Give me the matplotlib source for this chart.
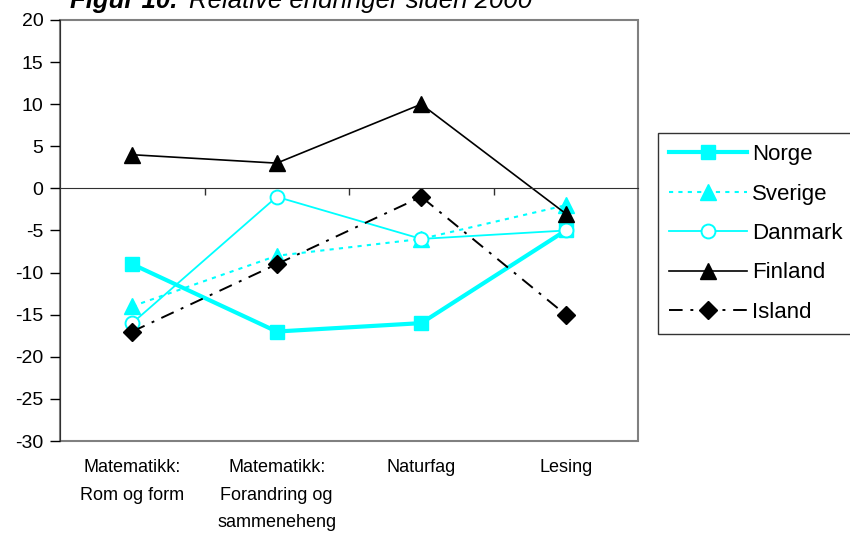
import matplotlib
matplotlib.use("Agg")
import matplotlib.pyplot as plt
from matplotlib.patches import Rectangle
from matplotlib import transforms

plt.rcParams['font.family'] = ['Liberation Sans', 'DejaVu Sans']
plt.rcParams['axes.unicode_minus'] = False

categories = ["Matematikk:\nRom og form", "Matematikk:\nForandring og\nsammeneheng", "Naturfag", "Lesing"]
norge = [-9, -17, -16, -5]
sverige = [-14, -8, -6, -2]
danmark = [-16, -1, -6, -5]
finland = [4, 3, 10, -3]
island = [-17, -9, -1, -15]

CYAN = "#00FFFF"

fig = plt.figure(figsize=(8.5, 5.42), dpi=100)
ax = fig.add_axes([60/850, 101/542, 578/850, 421/542])

x = list(range(len(categories)))
ax.plot(x, norge, color=CYAN, lw=3, marker='s', ms=10, label="Norge")
ax.plot(x, sverige, color=CYAN, lw=1.5, ls=(0, (2, 2.5)), marker='^', ms=11, label="Sverige")
ax.plot(x, danmark, color=CYAN, lw=1.3, marker='o', ms=10, mfc='white', mec=CYAN, mew=1.4, label="Danmark")
ax.plot(x, finland, color='black', lw=1.2, marker='^', ms=11, label="Finland")
ax.plot(x, island, color='black', lw=1.4, ls=(0, (7, 4, 1.5, 4)), marker='D', ms=9, label="Island")

ax.set_xlim(-0.5, 3.5)
ax.set_ylim(-30, 20)
ax.set_yticks(range(-30, 21, 5))
ax.tick_params(axis='y', labelsize=14, length=7, width=1, direction='out', pad=5)

# x axis crossing at zero, ticks at category boundaries
for s in ['top', 'right']:
    ax.spines[s].set_visible(False)
ax.spines['bottom'].set_position(('data', 0))
ax.spines['bottom'].set_color('#303030')
ax.spines['left'].set_color('#303030')
ax.set_xticks([0.5, 1.5, 2.5])
ax.set_xticklabels([])
ax.tick_params(axis='x', length=5, width=1, direction='out', colors='#303030')

ax.add_patch(Rectangle((0, 0), 1, 1, transform=ax.transAxes, fill=False,
                       edgecolor='#808080', lw=1.5, clip_on=False, zorder=0))

trans = transforms.blended_transform_factory(ax.transData, ax.transAxes)
for i, lab in enumerate(categories):
    ax.text(i, -0.043, lab, transform=trans, ha='center', va='top',
            fontsize=13, linespacing=1.8)

leg = fig.legend(loc='upper left', bbox_to_anchor=(658/850, 1 - 133/542),
                 fontsize=16, handlelength=3.5, labelspacing=0.83,
                 frameon=True, fancybox=False, borderpad=0.5, borderaxespad=0,
                 handletextpad=0.25)
leg.get_frame().set_edgecolor('black')
leg.get_frame().set_linewidth(1)

t1 = fig.text(70/850, 1 - 8/542, "Figur 10.", fontsize=18.5, fontweight='bold',
              fontstyle='italic', va='baseline', ha='left')
fig.canvas.draw()
bb = t1.get_window_extent()
fig.text((bb.x1 + 12)/850, 1 - 8/542, "Relative endringer siden 2000", fontsize=18.5,
         fontstyle='italic', va='baseline', ha='left')

fig.savefig("out.png", dpi=100)
